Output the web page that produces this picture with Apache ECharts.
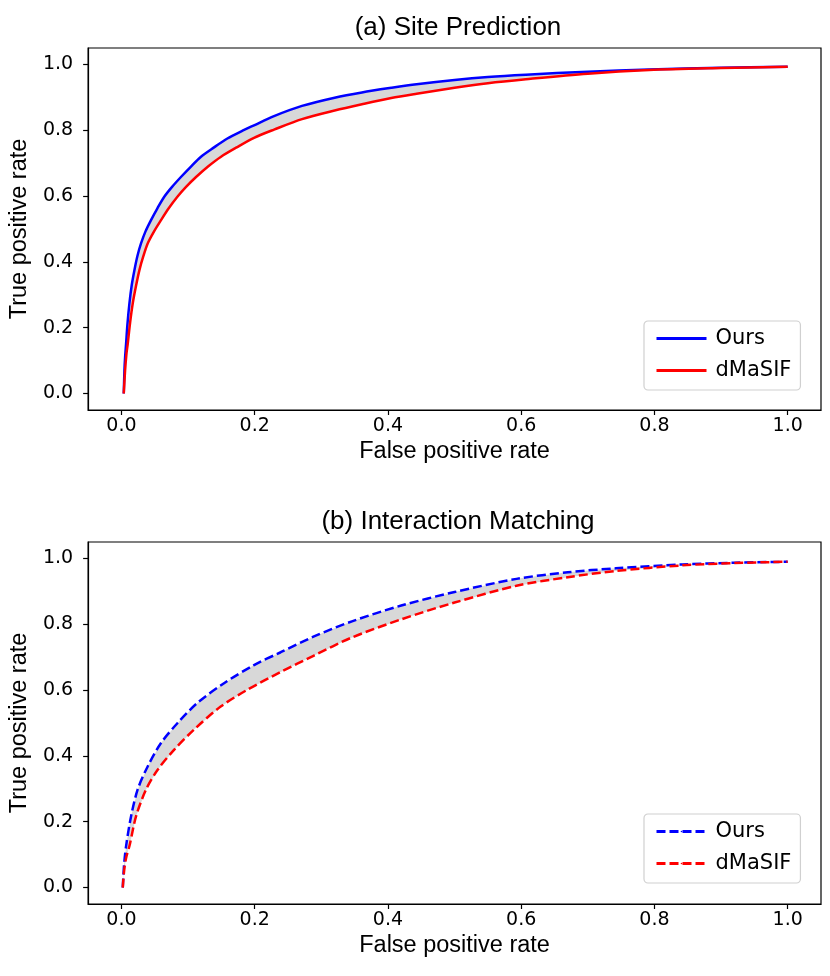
<!DOCTYPE html>
<html>
<head>
<meta charset="utf-8">
<script src="https://cdn.jsdelivr.net/npm/echarts@6/dist/echarts.min.js"></script>
<style>
  html, body { margin: 0; padding: 0; background: #fff; }
  #chart { width: 830px; height: 976px; }
</style>
</head>
<body>
<div id="chart"></div>
<script>
// (a) Site Prediction - ROC points
var fprOursA = [0.0035, 0.0045, 0.0055, 0.007, 0.009, 0.012, 0.0155, 0.0195, 0.024, 0.0294, 0.036, 0.0444, 0.054, 0.0643, 0.076, 0.0893, 0.104, 0.119, 0.139, 0.159, 0.18, 0.199, 0.229, 0.271, 0.32, 0.361, 0.405, 0.443, 0.5, 0.55, 0.607, 0.7, 0.792, 0.9, 1.0];
var tprOursA = [0.0, 0.07, 0.11, 0.152, 0.21, 0.274, 0.33, 0.375, 0.418, 0.456, 0.492, 0.527, 0.563, 0.598, 0.628, 0.658, 0.689, 0.719, 0.748, 0.775, 0.797, 0.815, 0.843, 0.874, 0.899, 0.915, 0.929, 0.940, 0.953, 0.962, 0.969, 0.978, 0.985, 0.990, 0.993];
var fprDmA = [0.0035, 0.0055, 0.0075, 0.0095, 0.013, 0.017, 0.022, 0.027, 0.033, 0.0394, 0.049, 0.0594, 0.071, 0.084, 0.097, 0.112, 0.13, 0.149, 0.173, 0.199, 0.229, 0.271, 0.32, 0.361, 0.405, 0.443, 0.5, 0.55, 0.607, 0.7, 0.792, 0.9, 1.0];
var tprDmA = [0.0, 0.07, 0.12, 0.152, 0.215, 0.274, 0.328, 0.375, 0.418, 0.456, 0.493, 0.527, 0.563, 0.598, 0.628, 0.658, 0.69, 0.719, 0.748, 0.777, 0.802, 0.834, 0.860, 0.879, 0.898, 0.911, 0.929, 0.943, 0.955, 0.972, 0.983, 0.989, 0.993];

// (b) Interaction Matching
var fprOursB = [0.002, 0.004, 0.007, 0.0145, 0.0244, 0.0394, 0.0594, 0.0843, 0.114, 0.154, 0.199, 0.239, 0.289, 0.346, 0.420, 0.50, 0.593, 0.67, 0.742, 0.842, 0.92, 1.0];
var tprOursB = [0.0, 0.07, 0.126, 0.217, 0.298, 0.368, 0.439, 0.50, 0.561, 0.621, 0.676, 0.715, 0.763, 0.809, 0.857, 0.898, 0.938, 0.958, 0.970, 0.982, 0.987, 0.990];
var fprDmB = [0.002, 0.004, 0.007, 0.012, 0.022, 0.037, 0.0544, 0.0793, 0.109, 0.149, 0.189, 0.239, 0.289, 0.346, 0.420, 0.50, 0.593, 0.67, 0.742, 0.842, 0.92, 1.0];
var tprDmB = [0.0, 0.05, 0.09, 0.126, 0.217, 0.298, 0.358, 0.419, 0.48, 0.55, 0.601, 0.655, 0.705, 0.760, 0.815, 0.866, 0.917, 0.943, 0.962, 0.979, 0.986, 0.990];

var tickVals = [0, 0.2, 0.4, 0.6, 0.8, 1.0];
var titles = ['(a) Site Prediction', '(b) Interaction Matching'];

function pairs(xs, ys) {
  return xs.map(function (x, i) { return [x, ys[i]]; });
}

var SANS = 'Liberation Sans';
var DJ = 'DejaVu Sans';
var gridTops = [48, 542];

function xAxisFor(i) {
  return {
    type: 'value', gridIndex: i, min: -0.05, max: 1.05,
    name: 'False positive rate', nameLocation: 'middle', nameGap: 30,
    nameTextStyle: { fontFamily: SANS, fontSize: 23.5, color: '#000' },
    axisLine: { show: true, onZero: false, lineStyle: { color: '#000', width: 1.2 } },
    axisTick: { show: true, length: 5, customValues: tickVals, lineStyle: { color: '#000', width: 1.2 } },
    axisLabel: {
      customValues: tickVals, margin: 7, fontFamily: DJ, fontSize: 19, color: '#000',
      formatter: function (v) { return v.toFixed(1); }
    },
    splitLine: { show: false }
  };
}
function yAxisFor(i) {
  return {
    type: 'value', gridIndex: i, min: -0.05, max: 1.05,
    name: 'True positive rate', nameLocation: 'middle', nameGap: 49, nameRotate: 90,
    nameTextStyle: { fontFamily: SANS, fontSize: 23.5, color: '#000' },
    axisLine: { show: true, onZero: false, lineStyle: { color: '#000', width: 1.2 } },
    axisTick: { show: true, length: 5, customValues: tickVals, lineStyle: { color: '#000', width: 1.2 } },
    axisLabel: {
      customValues: tickVals, margin: 15, fontFamily: DJ, fontSize: 19, color: '#000',
      formatter: function (v) { return v.toFixed(1); }
    },
    splitLine: { show: false }
  };
}

// grey band between the two curves (fill_between)
function band(i, topPts, lowPts) {
  return {
    type: 'custom', xAxisIndex: i, yAxisIndex: i, silent: true, z: 1,
    data: [[0, 0]],
    renderItem: function (params, api) {
      var pts = topPts.map(function (p) { return api.coord(p); })
        .concat(lowPts.slice().reverse().map(function (p) { return api.coord(p); }));
      return { type: 'polygon', shape: { points: pts }, style: { fill: '#d8d8d8' } };
    }
  };
}
function curve(i, name, pts, color, dashed) {
  return {
    name: name, type: 'line', xAxisIndex: i, yAxisIndex: i,
    data: pts, symbol: 'none', smooth: 0.3, z: 3,
    itemStyle: { color: color },
    lineStyle: { color: color, width: 2.5, type: dashed ? [9, 4] : 'solid' }
  };
}
function legendFor(i, names) {
  return {
    data: names, orient: 'vertical', left: 644, top: i === 0 ? 321 : 814,
    itemWidth: 50, itemHeight: 2, itemGap: 11,
    padding: [7, 9, 9, 11],
    borderColor: '#d0d0d0', borderWidth: 1.2, borderRadius: 4,
    backgroundColor: '#fff',
    lineStyle: { width: 3 },
    textStyle: { fontFamily: DJ, fontSize: 21, color: '#000', lineHeight: 21, padding: [0, 0, 0, 4] },
    formatter: function (n) { return n.replace(' (b)', ''); }
  };
}

var oursA = pairs(fprOursA, tprOursA), dmA = pairs(fprDmA, tprDmA);
var oursB = pairs(fprOursB, tprOursB), dmB = pairs(fprDmB, tprDmB);

var series = [
  band(0, oursA, dmA),
  curve(0, 'Ours', oursA, '#0000ff', false),
  curve(0, 'dMaSIF', dmA, '#ff0000', false),
  band(1, oursB, dmB),
  curve(1, 'Ours (b)', oursB, '#0000ff', true),
  curve(1, 'dMaSIF (b)', dmB, '#ff0000', true)
];

var myChart = echarts.init(document.getElementById('chart'), null, { renderer: 'canvas' });
var option = {
  animation: false,
  backgroundColor: '#fff',
  title: titles.map(function (t, i) {
    return {
      text: t, left: 453, textAlign: 'center', top: i === 0 ? 10 : 504,
      textStyle: { fontFamily: SANS, fontSize: 26, fontWeight: 'normal', color: '#000' }
    };
  }),
  grid: gridTops.map(function (t) {
    return { left: 86, top: t, width: 735, height: 362, show: true, borderColor: '#000', borderWidth: 1.2 };
  }),
  xAxis: [xAxisFor(0), xAxisFor(1)],
  yAxis: [yAxisFor(0), yAxisFor(1)],
  legend: [legendFor(0, ['Ours', 'dMaSIF']), legendFor(1, ['Ours (b)', 'dMaSIF (b)'])],
  series: series
};
myChart.setOption(option);
</script>
</body>
</html>
